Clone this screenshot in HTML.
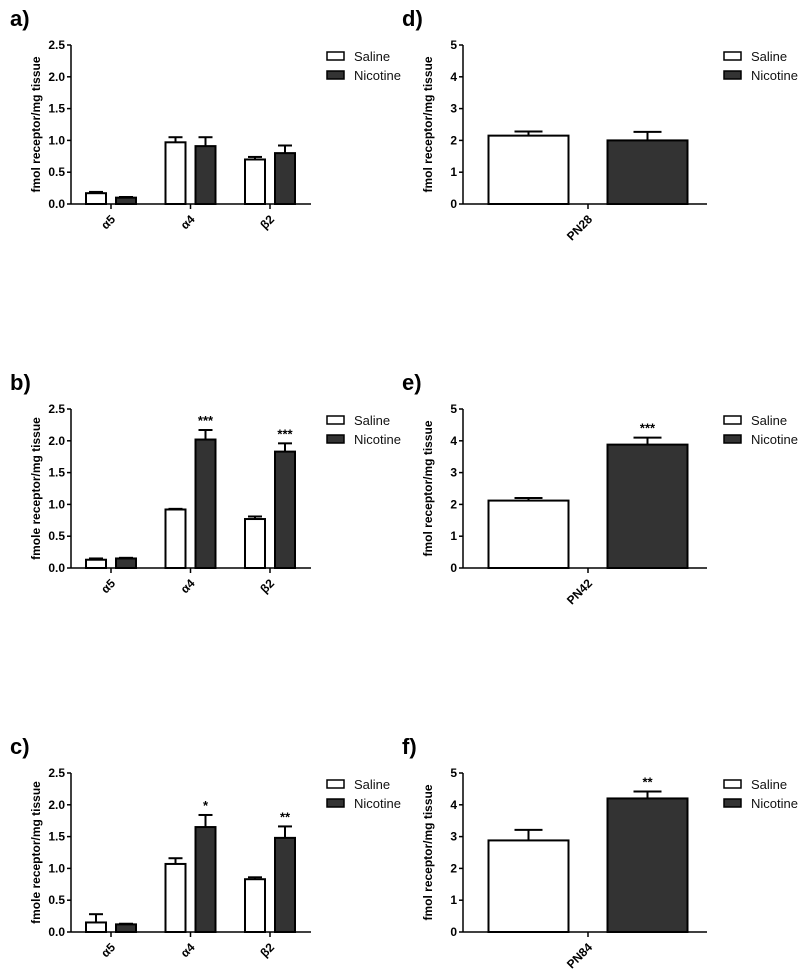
<!DOCTYPE html>
<html><head><meta charset="utf-8"><style>
html,body{margin:0;padding:0;background:#fff;}
svg{display:block;font-family:"Liberation Sans",Arial,sans-serif;}
</style></head><body>
<svg id="fig" width="800" height="978" viewBox="0 0 800 978" xmlns="http://www.w3.org/2000/svg"></svg>
<script>
const panelLabels = ["a)","b)","c)","d)","e)","f)"];
const yTitles = ["fmol receptor/mg tissue","fmole receptor/mg tissue","fmole receptor/mg tissue","fmol receptor/mg tissue","fmol receptor/mg tissue","fmol receptor/mg tissue"];
const subunitCats = ["α5","α4","β2"];
const salineA = [0.17,0.97,0.70], salineErrA = [0.02,0.08,0.04];
const nicA = [0.10,0.91,0.80], nicErrA = [0.01,0.14,0.12];
const salineB = [0.13,0.92,0.77], salineErrB = [0.02,0.01,0.04];
const nicB = [0.15,2.02,1.83], nicErrB = [0.01,0.15,0.13];
const starsB = ["","***","***"];
const salineC = [0.15,1.07,0.83], salineErrC = [0.13,0.09,0.03];
const nicC = [0.12,1.65,1.48], nicErrC = [0.01,0.19,0.18];
const starsC = ["","*","**"];
const ageCats = [["PN28"],["PN42"],["PN84"]];
const salineAge = [2.15,2.12,2.88], salineAgeErr = [0.13,0.08,0.33];
const nicAge = [2.00,3.88,4.20], nicAgeErr = [0.27,0.22,0.22];
const starsAge = ["","***","**"];
const leftTicks = ["0.0","0.5","1.0","1.5","2.0","2.5"];
const rightTicks = ["0","1","2","3","4","5"];

const NS="http://www.w3.org/2000/svg";
const svg=document.getElementById('fig');
function mk(tag,attrs,parent,name){const e=document.createElementNS(NS,tag);for(const k in attrs)e.setAttribute(k,attrs[k]);


(parent||svg).appendChild(e);return e;}

function panel(o){
  const g=mk('g',{},svg,'panel-'+o.id);
  const top=o.top, bot=o.top+159, x0=o.x0, x1=o.x1;
  const ymax=o.ymax;
  const yS=v=>bot-(v/ymax)*(bot-top);
  const t=mk('text',{x:o.x0-61,y:o.top-19,'font-size':22,'font-weight':'bold',fill:'#000'},g,'panel-label');t.textContent=o.label;
  mk('line',{x1:x0,y1:top,x2:x0,y2:bot+0.5,stroke:'#000','stroke-width':1.5},g,'y-axis');
  mk('line',{x1:x0,y1:bot,x2:x1,y2:bot,stroke:'#000','stroke-width':1.5},g,'x-axis');
  o.ticks.forEach((tk,i)=>{const v=i*ymax/(o.ticks.length-1);const y=yS(v);
    mk('line',{x1:x0-4,y1:y,x2:x0,y2:y,stroke:'#000','stroke-width':1.5},g,'y-tick');
    const tt=mk('text',{x:x0-6,y:y+4,'font-size':12,'font-weight':'bold','text-anchor':'end'},g,'y-tick-label');tt.textContent=tk;});
  const yt=mk('text',{x:0,y:0,'font-size':12,'font-weight':'bold','text-anchor':'middle',transform:`translate(${x0-31},${(top+bot)/2}) rotate(-90)`},g,'y-axis-title');yt.textContent=o.ytitle;
  o.cats.forEach((c,i)=>{
    const cx=o.cx(i);
    mk('line',{x1:cx,y1:bot,x2:cx,y2:bot+5,stroke:'#000','stroke-width':1.5},g,'x-tick');
    const lt=mk('text',{x:0,y:0,'font-size':12,'font-weight':'bold','text-anchor':'end',transform:`translate(${cx+5},${bot+16}) rotate(-45)`},g,'x-tick-label');lt.textContent=c;
    [[o.sal,o.salE,'#fff',-1,'saline'],[o.nic,o.nicE,'#333',1,'nicotine']].forEach(([vals,errs,fill,side,nm])=>{
      const bx= side<0? cx-o.gap/2-o.bw : cx+o.gap/2;
      const y=yS(vals[i]), ye=yS(vals[i]+errs[i]), mx=bx+o.bw/2;
      mk('line',{x1:mx,y1:y,x2:mx,y2:ye,stroke:'#000','stroke-width':2},g,'error-bar-'+nm);
      mk('line',{x1:mx-o.cap,y1:ye,x2:mx+o.cap,y2:ye,stroke:'#000','stroke-width':2},g,'error-cap-'+nm);
      mk('rect',{x:bx,y:y,width:o.bw,height:bot-y,fill:fill,stroke:'#000','stroke-width':2},g,'bar-'+nm+'-'+i);
      if(side>0 && o.stars && o.stars[i]){const s=mk('text',{x:mx,y:ye-5,'font-size':13,'font-weight':'bold','text-anchor':'middle'},g,'significance-stars');s.textContent=o.stars[i];}
    });
  });
  const lx=o.lx;
  [['Saline','#fff',o.top+7],['Nicotine','#333',o.top+26]].forEach(([txt,f,y])=>{
    mk('rect',{x:lx,y:y,width:17,height:8,fill:f,stroke:'#000','stroke-width':1.5},g,'legend-swatch');
    const lt=mk('text',{x:lx+27,y:y+9,'font-size':13,fill:'#111'},g,'legend-entry');lt.textContent=txt;
  });
}
const tops=[45,409,773];
const left=[[salineA,salineErrA,nicA,nicErrA,null],[salineB,salineErrB,nicB,nicErrB,starsB],[salineC,salineErrC,nicC,nicErrC,starsC]];
left.forEach((d,i)=>panel({id:panelLabels[i][0],label:panelLabels[i],ytitle:yTitles[i],top:tops[i],x0:71,x1:311,ymax:2.5,ticks:leftTicks,
  cats:subunitCats,cx:k=>111+k*79.5,bw:20,gap:10,cap:7,sal:d[0],salE:d[1],nic:d[2],nicE:d[3],stars:d[4],lx:327}));
for(let i=0;i<3;i++){
  panel({id:panelLabels[i+3][0],label:panelLabels[i+3],ytitle:yTitles[i+3],top:tops[i],x0:463,x1:707,ymax:5,ticks:rightTicks,
  cats:ageCats[i],cx:k=>588,bw:80,gap:39,cap:14,sal:[salineAge[i]],salE:[salineAgeErr[i]],nic:[nicAge[i]],nicE:[nicAgeErr[i]],stars:[starsAge[i]],lx:724});
}
</script>
</body></html>
